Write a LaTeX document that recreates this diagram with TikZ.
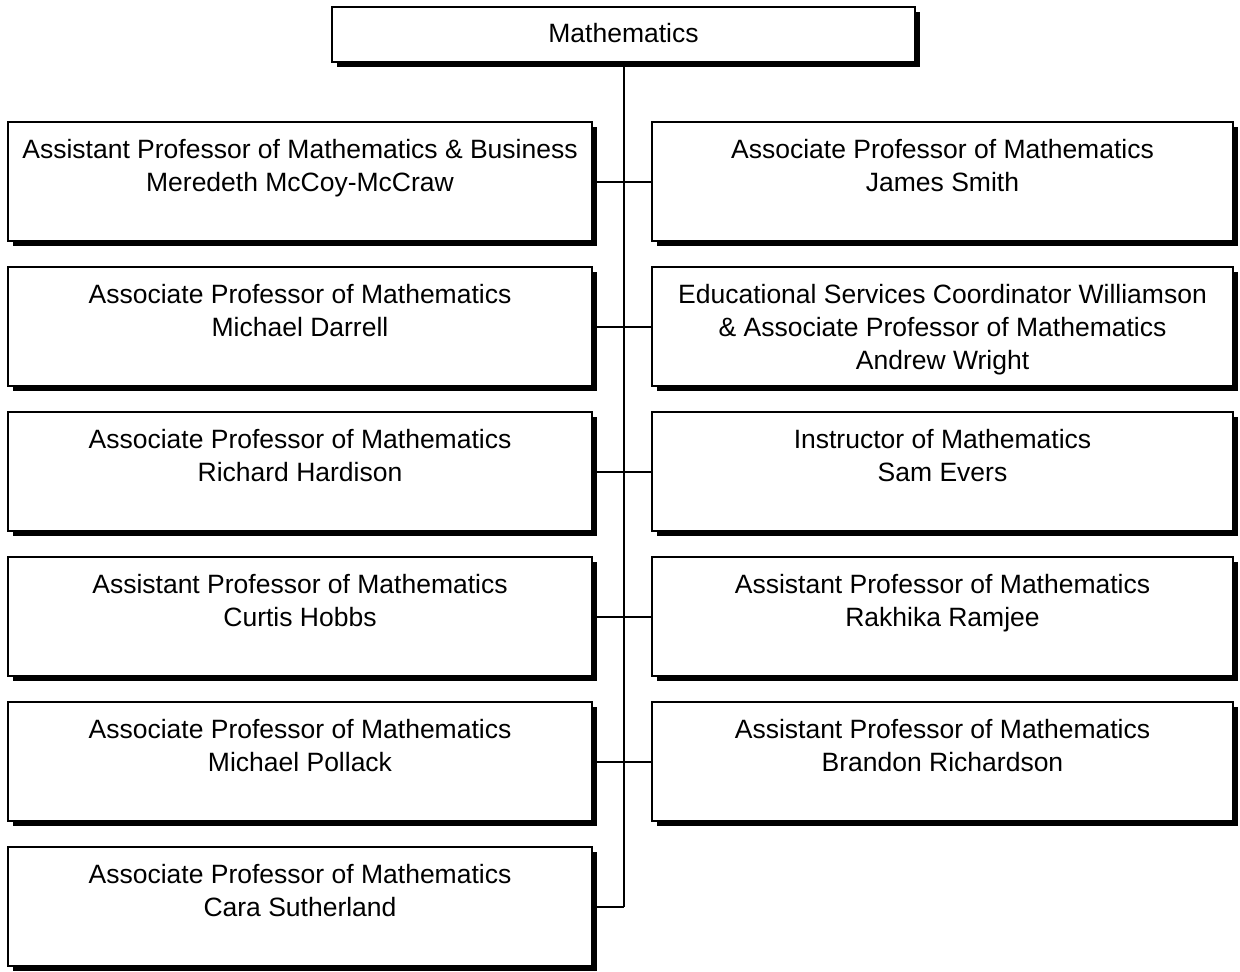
\documentclass[tikz,border=0pt]{standalone}
\usepackage{fontspec}
\setmainfont{Liberation Sans}
\usetikzlibrary{shadows}
\begin{document}
\begin{tikzpicture}[x=1pt,y=-1pt,
  box/.style={draw, line width=2pt, fill=white, inner sep=0pt, outer sep=0pt,
    drop shadow={shadow xshift=5pt, shadow yshift=-5pt, opacity=1, fill=black}},
  lbox/.style={box, minimum width=584pt, minimum height=119pt},
  rbox/.style={box, minimum width=581pt, minimum height=119pt},
  txt/.style={inner sep=0pt, anchor=base, font=\fontsize{26.5}{33}\selectfont},
  conn/.style={line width=2pt}]
\useasboundingbox (0,0) rectangle (1240,972);
% boxes
\node[box, minimum width=583pt, minimum height=55pt] (top) at (623.5,34.5) {};
\foreach \i/\n in {0/l1,1/l2,2/l3,3/l4,4/l5,5/l6} {
  \node[lbox] (\n) at (300,181.5+145*\i) {};
}
\foreach \i/\n in {0/r1,1/r2,2/r3,3/r4,4/r5} {
  \node[rbox] (\n) at (942.5,181.5+145*\i) {};
}
% connectors
\coordinate (tend) at (623.5,906.5);
\draw[conn] (top.south) -- (tend);
\draw[conn] (l1.east) -- (r1.west);
\draw[conn] (l2.east) -- (r2.west);
\draw[conn] (l3.east) -- (r3.west);
\draw[conn] (l4.east) -- (r4.west);
\draw[conn] (l5.east) -- (r5.west);
\draw[conn] (l6.east) -- (tend);
% texts
\newcommand{\boxtext}[3]{\node[txt] (#1) at ([yshift=-36pt]#2.north) {\parbox[t]{600pt}{\centering #3}};}
\node[txt] (ttop) at (623.5,42) {Mathematics};
\boxtext{tl1}{l1}{Assistant Professor of Mathematics \& Business\\Meredeth McCoy-McCraw}
\boxtext{tl2}{l2}{Associate Professor of Mathematics\\Michael Darrell}
\boxtext{tl3}{l3}{Associate Professor of Mathematics\\Richard Hardison}
\boxtext{tl4}{l4}{Assistant Professor of Mathematics\\Curtis Hobbs}
\boxtext{tl5}{l5}{Associate Professor of Mathematics\\Michael Pollack}
\boxtext{tl6}{l6}{Associate Professor of Mathematics\\Cara Sutherland}
\boxtext{tr1}{r1}{Associate Professor of Mathematics\\James Smith}
\boxtext{tr2}{r2}{Educational Services Coordinator Williamson\\\& Associate Professor of Mathematics\\Andrew Wright}
\boxtext{tr3}{r3}{Instructor of Mathematics\\Sam Evers}
\boxtext{tr4}{r4}{Assistant Professor of Mathematics\\Rakhika Ramjee}
\boxtext{tr5}{r5}{Assistant Professor of Mathematics\\Brandon Richardson}
\end{tikzpicture}
\end{document}
